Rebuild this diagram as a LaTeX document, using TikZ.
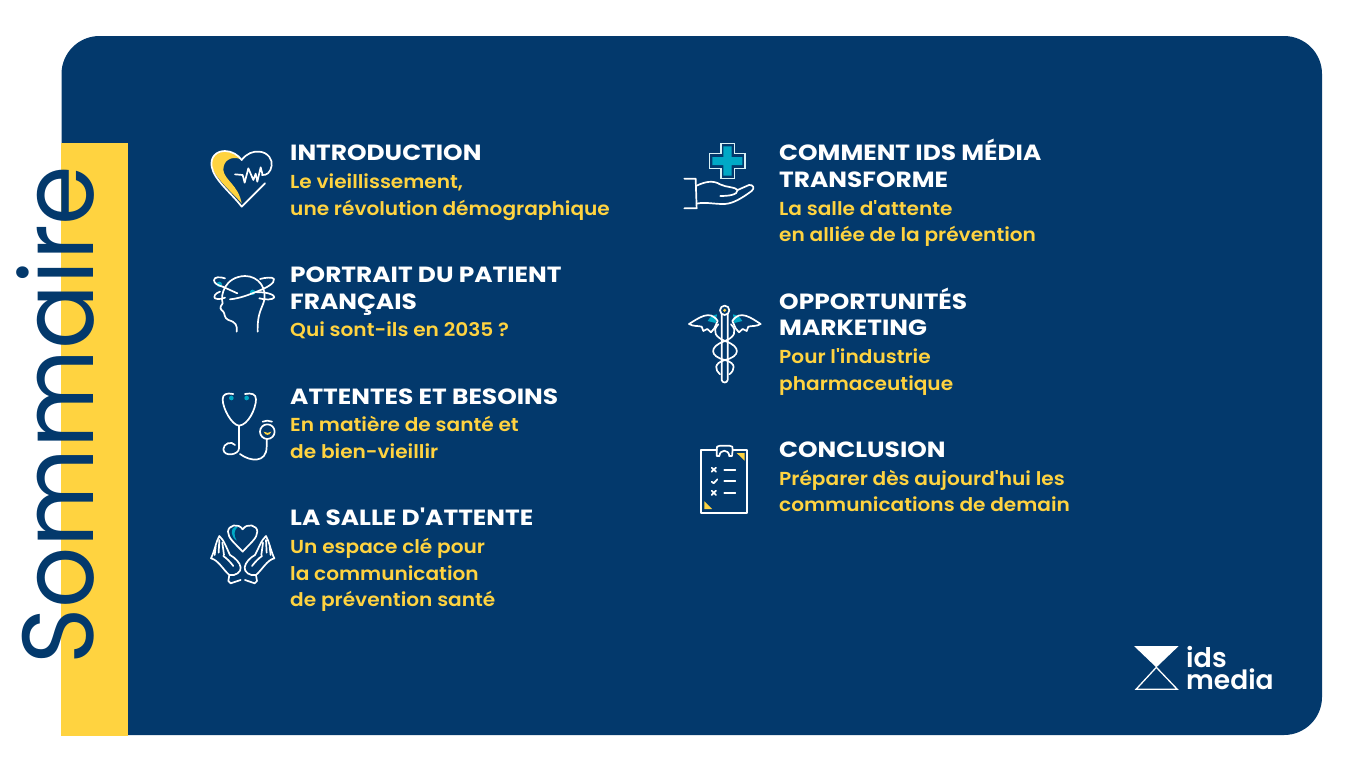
\documentclass[tikz,border=0pt]{standalone}
\usepackage{fontspec}
\setmainfont{Poppins}
\newfontfamily\headfont[FakeStretch=1.13]{Poppins Bold}
\newfontfamily\subfont[FakeStretch=1.07]{Poppins SemiBold}
\newfontfamily\medfont{Poppins SemiBold}
\newfontfamily\bigfont[FakeStretch=0.95]{Poppins}
\definecolor{navy}{HTML}{03396C}
\definecolor{sun}{HTML}{FFD340}
\definecolor{teal}{HTML}{00A9C6}
\tikzset{
  head/.style={anchor=base west,inner sep=0pt,yshift=0.3pt,text=white,font=\headfont\fontsize{22}{26}\selectfont},
  sub/.style={anchor=base west,inner sep=0pt,text=sun,font=\subfont\fontsize{18.8}{24}\selectfont},
  ic/.style={draw=white,line width=1.7pt,line cap=round,line join=round},
  icon/.style={x=0.3333pt,y=-0.3333pt}
}
\begin{document}
\begin{tikzpicture}[x=1pt,y=-1pt]
\useasboundingbox (0,0) rectangle (1359,774);
\fill[white] (0,0) rectangle (1359,774);
\fill[navy,rounded corners=38pt] (61.5,36) -- (1322,36) -- (1322,735) -- (61.5,735) -- cycle;
\fill[navy] (61.5,100) rectangle (128,735);
\fill[sun] (61,143) rectangle (128,736);
\node[rotate=90,anchor=base west,inner sep=0pt,text=navy,font=\bigfont\fontsize{101}{101}\selectfont] (title) at (93,665) {Sommaire};
% left column
\node[head] (a1) at (290,161) {INTRODUCTION};
\node[sub] (a2) at (290,188) {Le vieillissement,};
\node[sub] (a3) at (290,215) {une révolution démographique};
\node[head] (b1) at (290,283) {PORTRAIT DU PATIENT};
\node[head] (b2) at (290,310) {FRANÇAIS};
\node[sub] (b3) at (290,336) {Qui sont-ils en 2035 ?};
\node[head] (c1) at (290,405) {ATTENTES ET BESOINS};
\node[sub] (c2) at (290,431) {En matière de santé et};
\node[sub] (c3) at (290,458) {de bien-vieillir};
\node[head] (d1) at (290,526) {LA SALLE D'ATTENTE};
\node[sub] (d2) at (290,553) {Un espace clé pour};
\node[sub] (d3) at (290,580) {la communication};
\node[sub] (d4) at (290,606) {de prévention santé};
% right column
\node[head] (e1) at (779,161) {COMMENT IDS MÉDIA};
\node[head] (e2) at (779,188) {TRANSFORME};
\node[sub] (e3) at (779,215) {La salle d'attente};
\node[sub] (e4) at (779,241) {en alliée de la prévention};
\node[head] (f1) at (779,310) {OPPORTUNITÉS};
\node[head] (f2) at (779,336) {MARKETING};
\node[sub] (f3) at (779,363) {Pour l'industrie};
\node[sub] (f4) at (779,390) {pharmaceutique};
\node[head] (g1) at (779,458) {CONCLUSION};
\node[sub] (g2) at (779,485) {Préparer dès aujourd'hui les};
\node[sub] (g3) at (779,511) {communications de demain};
% heart
\begin{scope}[shift={(200,135)},icon]
\fill[sun] (125,205) .. controls (100,175) and (45,130) .. (36,95) .. controls (30,65) and (50,50) .. (75,50) .. controls (95,50) and (110,60) .. (122,72) .. controls (90,62) and (70,78) .. (70,105) .. controls (73,135) and (115,150) .. (125,205) -- cycle;
\draw[ic] (195,145) -- (125,215) .. controls (95,175) and (42,135) .. (35,95) .. controls (30,65) and (50,48) .. (75,48) .. controls (95,48) and (115,60) .. (125,75) .. controls (140,55) and (160,48) .. (178,50) .. controls (205,52) and (218,75) .. (215,92) .. controls (212,112) and (200,122) .. (186,120);
\draw[ic] (105,118) -- (128,120) -- (134,143) -- (145,100) -- (160,135) -- (167,116) -- (172,140) -- (182,97) -- (188,120);
\end{scope}
% head
\begin{scope}[shift={(200,135)},icon]
\fill[teal] (58,448) circle (8);
\fill[teal] (158,472) circle (8);
\draw[ic] (110,590) .. controls (112,570) and (108,562) .. (85,555) .. controls (72,550) and (75,535) .. (70,530) .. controls (60,522) and (58,518) .. (68,505) .. controls (60,480) and (75,425) .. (135,423) .. controls (175,423) and (205,460) .. (190,505) .. controls (180,530) and (172,545) .. (173,590);
\draw[ic] (68,455) -- (112,475);
\draw[ic] (90,493) .. controls (120,490) and (145,480) .. (175,468) .. controls (200,458) and (225,445) .. (222,432) .. controls (218,425) and (195,428) .. (180,432);
\draw[ic] (75,430) .. controls (60,425) and (42,425) .. (42,436) .. controls (42,445) and (55,452) .. (68,455);
\draw[ic] (60,470) .. controls (45,475) and (40,485) .. (45,490) .. controls (55,495) and (70,490) .. (75,488);
\draw[ic] (170,472) .. controls (200,470) and (225,480) .. (223,487) .. controls (220,495) and (195,495) .. (178,490);
\end{scope}
% stethoscope
\begin{scope}[shift={(200,380)},icon]
\fill[teal] (94,54) circle (7);
\fill[teal] (140,54) circle (7);
\fill[sun] (191,155) .. controls (195,168) and (210,168) .. (214,155) .. controls (208,160) and (198,160) .. (191,155) -- cycle;
\draw[ic] (100,42) .. controls (80,38) and (68,42) .. (68,58) .. controls (68,85) and (95,135) .. (117,137) .. controls (145,135) and (168,85) .. (168,58) .. controls (168,42) and (155,38) .. (135,42);
\draw[ic] (117,137) -- (117,205) .. controls (117,225) and (72,232) .. (70,208) .. controls (70,190) and (95,182) .. (105,195);
\draw[ic] (120,222) .. controls (150,245) and (200,250) .. (200,200) -- (200,178);
\draw[ic] (202,155) circle (22);
\draw[ic] (188,125) .. controls (197,121) and (207,121) .. (216,125);
\end{scope}
% hands and heart
\begin{scope}[shift={(200,380)},icon]
\fill[teal] (106,440) .. controls (90,445) and (92,470) .. (110,482) .. controls (100,465) and (102,450) .. (114,440) -- cycle;
\draw[ic] (128,515) .. controls (105,490) and (84,475) .. (84,455) .. controls (85,435) and (115,428) .. (128,448) .. controls (141,428) and (172,435) .. (172,455) .. controls (172,475) and (150,490) .. (128,515) -- cycle;
\draw[ic] (33,535) .. controls (45,510) and (48,485) .. (58,468) .. controls (72,480) and (80,505) .. (90,525) .. controls (105,533) and (120,548) .. (122,562) .. controls (125,575) and (105,590) .. (88,585) .. controls (70,570) and (55,540) .. (33,535) -- cycle;
\draw[ic] (58,480) -- (56,518) (67,488) -- (72,525) (47,500) -- (44,525) (70,528) .. controls (80,535) and (90,545) .. (100,558);
\draw[ic] (88,585) -- (85,603) -- (92,610) -- (122,600);
\draw[ic] (223,535) .. controls (211,510) and (208,485) .. (198,468) .. controls (184,480) and (176,505) .. (165,525) .. controls (150,533) and (136,548) .. (134,562) .. controls (131,575) and (151,590) .. (168,585) .. controls (186,570) and (201,540) .. (223,535) -- cycle;
\draw[ic] (198,480) -- (200,518) (189,488) -- (184,525) (209,500) -- (212,525) (186,528) .. controls (176,535) and (166,545) .. (156,558);
\draw[ic] (168,585) -- (171,603) -- (164,610) -- (135,600);
\end{scope}
% hand with cross
\begin{scope}[shift={(675,135)},icon]
\fill[navy] (138,26) -- (178,26) -- (178,56) -- (210,56) -- (210,100) -- (178,100) -- (178,130) -- (138,130) -- (138,100) -- (103,100) -- (103,56) -- (138,56) -- cycle;
\draw[draw=white!85!teal,line width=1.2pt] (138,26) -- (178,26) -- (178,56) -- (210,56) -- (210,100) -- (178,100) -- (178,130) -- (138,130) -- (138,100) -- (103,100) -- (103,56) -- (138,56) -- cycle;
\fill[teal] (145,34) -- (170,34) -- (170,66) -- (202,66) -- (202,90) -- (170,90) -- (170,122) -- (145,122) -- (145,90) -- (112,90) -- (112,66) -- (145,66) -- cycle;
\draw[ic] (28,131) -- (62,131) -- (65,220) -- (28,220);
\draw[ic] (65,152) .. controls (90,140) and (115,135) .. (135,148) .. controls (155,158) and (180,155) .. (188,165) .. controls (188,180) and (160,183) .. (136,183);
\draw[ic] (188,165) -- (222,150) .. controls (235,148) and (240,160) .. (230,168) .. controls (200,190) and (175,205) .. (150,207) .. controls (120,208) and (90,200) .. (65,206);
\end{scope}
% caduceus
\begin{scope}[shift={(675,135)},icon]
\fill[teal] (98,558) .. controls (105,545) and (115,540) .. (126,538) -- (122,564) -- cycle;
\fill[teal] (202,558) .. controls (195,545) and (185,540) .. (174,538) -- (178,564) -- cycle;
\draw[ic] (149,526) circle (14);
\fill[sun] (149,526) circle (5);
\draw[ic] (140,538) -- (140,735) .. controls (142,745) and (156,745) .. (158,735) -- (158,538);
\draw[ic] (128,558) .. controls (105,522) and (70,550) .. (42,567) .. controls (55,575) and (70,572) .. (80,575) -- (85,588) -- (97,582) -- (108,592) -- (118,580) -- (128,558);
\draw[ic] (172,558) .. controls (195,522) and (230,550) .. (257,567) .. controls (245,575) and (230,572) .. (220,575) -- (215,588) -- (203,582) -- (192,592) -- (182,580) -- (172,558);
\draw[ic] (130,568) .. controls (108,590) and (125,608) .. (150,618) .. controls (200,635) and (195,665) .. (150,675) .. controls (115,685) and (120,705) .. (135,718);
\draw[ic] (168,568) .. controls (190,590) and (175,608) .. (150,618) .. controls (100,635) and (105,665) .. (150,675) .. controls (185,685) and (180,705) .. (163,718);
\end{scope}
% clipboard
\begin{scope}[shift={(690,435)},icon]
\fill[sun] (140,54) -- (164,54) -- (164,77) -- cycle;
\fill[sun] (43,199) -- (66,222) -- (43,222) -- cycle;
\draw[ic] (80,44) -- (34,44) -- (34,233) -- (172,233) -- (172,44) -- (128,44);
\draw[ic] (80,44) .. controls (78,36) and (82,32) .. (90,32) -- (118,32) .. controls (126,32) and (130,36) .. (128,44);
\draw[ic] (88,63) .. controls (90,42) and (116,42) .. (118,63);
\draw[ic] (80,63) -- (88,63) (118,63) -- (126,63) (126,63) -- (128,44) (80,63) -- (80,44);
\draw[ic] (65,98) -- (78,110) (78,98) -- (65,110) (65,167) -- (78,180) (78,167) -- (65,180);
\draw[ic] (65,140) -- (71,145) -- (82,133);
\draw[ic] (103,104) -- (136,104) (103,138) -- (136,138) (103,174) -- (136,174);
\end{scope}
% logo
\begin{scope}[shift={(1120,630)},icon]
\fill[white] (42,48) -- (176,48) -- (109,112) -- cycle;
\draw[white,line width=1.3pt,line join=miter] (109,112) -- (48,178) -- (172,178) -- cycle;
\end{scope}
\node[anchor=base west,inner sep=0pt,text=white,font=\medfont\fontsize{27}{27}\selectfont] (l1) at (1186,667) {ids};
\node[anchor=base west,inner sep=0pt,text=white,font=\medfont\fontsize{26.5}{26.5}\selectfont] (l2) at (1186,689) {media};
\end{tikzpicture}
\end{document}
